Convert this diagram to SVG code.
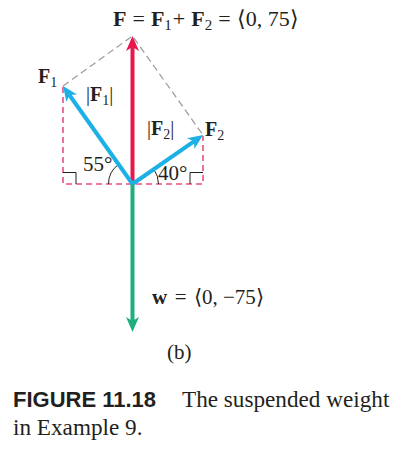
<svg xmlns="http://www.w3.org/2000/svg" width="409" height="455" viewBox="0 0 409 455">
<style>
.t{font-family:"Liberation Serif","Times New Roman",serif;fill:#231f20}
.b{font-weight:bold}
.cap{font-family:"Liberation Sans",Arial,sans-serif;font-weight:bold;fill:#231f20}
.guide{fill:none;stroke:#9a9a9a;stroke-width:1.2;stroke-dasharray:7 4}
.comp{fill:none;stroke:#e8507a;stroke-width:1.6;stroke-dasharray:6 4}
.thin{fill:none;stroke:#231f20;stroke-width:1}
</style>
<defs>
<marker id="hb" markerUnits="userSpaceOnUse" viewBox="-6 -8 18 16" refX="0" refY="0" markerWidth="18" markerHeight="16" orient="auto">
<path d="M11,0 L-4,-6.5 L0,0 L-4,6.5 Z" fill="#1db0e6"/>
</marker>
<marker id="hr" markerUnits="userSpaceOnUse" viewBox="-6 -8 18 16" refX="0" refY="0" markerWidth="18" markerHeight="16" orient="auto">
<path d="M11,0 L-4,-6.5 L0,0 L-4,6.5 Z" fill="#e8184e"/>
</marker>
<marker id="hg" markerUnits="userSpaceOnUse" viewBox="-6 -8 18 16" refX="0" refY="0" markerWidth="18" markerHeight="16" orient="auto">
<path d="M11,0 L-4,-6.5 L0,0 L-4,6.5 Z" fill="#1fae7c"/>
</marker>
</defs>

<g id="guides">
<path class="guide" d="M63,86 L132.5,36 L203,135"/>
<path class="comp" d="M63,87 V184 H203 V136"/>
<path class="thin" d="M63,172.5 H76 V184"/>
<path class="thin" d="M190,184 V172.5 H203"/>
<path class="thin" d="M108.5,184 A24,24 0 0 1 118.6,164.4"/>
<path class="thin" d="M158.5,184 A26,26 0 0 0 153.8,169.2"/>
</g>

<g id="connectors">
<line id="w" x1="132.5" y1="184" x2="132.5" y2="321" stroke="#1fae7c" stroke-width="4" marker-end="url(#hg)"/>
<line id="F" x1="132.5" y1="184" x2="132.5" y2="47" stroke="#e8184e" stroke-width="4" marker-end="url(#hr)"/>
<line id="F1" x1="132.5" y1="184" x2="69.4" y2="95" stroke="#1db0e6" stroke-width="4" marker-end="url(#hb)"/>
<line id="F2" x1="132.5" y1="184" x2="194" y2="141.3" stroke="#1db0e6" stroke-width="4" marker-end="url(#hb)"/>
</g>

<g id="labels">
<text class="t" x="113" y="26" font-size="22"><tspan class="b">F</tspan><tspan dx="6">=</tspan><tspan class="b" dx="6">F</tspan><tspan font-size="15" dy="4">1</tspan><tspan dy="-4" dx="1">+</tspan><tspan class="b" dx="6">F</tspan><tspan font-size="15" dy="4">2</tspan><tspan dy="-4" dx="6">=</tspan><tspan dx="6">⟨0, 75⟩</tspan></text>
<text class="t" x="38" y="83" font-size="20"><tspan class="b">F</tspan><tspan font-size="14" dy="4">1</tspan></text>
<text class="t" x="86" y="101" font-size="20">|<tspan class="b">F</tspan><tspan font-size="14" dy="4">1</tspan><tspan dy="-4">|</tspan></text>
<text class="t" x="147" y="135" font-size="20">|<tspan class="b">F</tspan><tspan font-size="14" dy="4">2</tspan><tspan dy="-4">|</tspan></text>
<text class="t" x="205" y="136" font-size="20"><tspan class="b">F</tspan><tspan font-size="14" dy="4">2</tspan></text>
<text class="t" x="83" y="170.5" font-size="21">55°</text>
<text class="t" x="158" y="179.5" font-size="21">40°</text>
<text class="t" x="152" y="304" font-size="21"><tspan class="b">w</tspan><tspan dx="7.5">=</tspan><tspan dx="7.5">⟨0, −75⟩</tspan></text>
<text class="t" x="167" y="359" font-size="21">(b)</text>
</g>

<g id="caption">
<text class="cap" x="13" y="407" font-size="22">FIGURE 11.18</text>
<text class="t" x="182" y="407" font-size="23.2">The suspended weight</text>
<text class="t" x="13" y="435" font-size="23.2">in Example 9.</text>
</g>
</svg>
